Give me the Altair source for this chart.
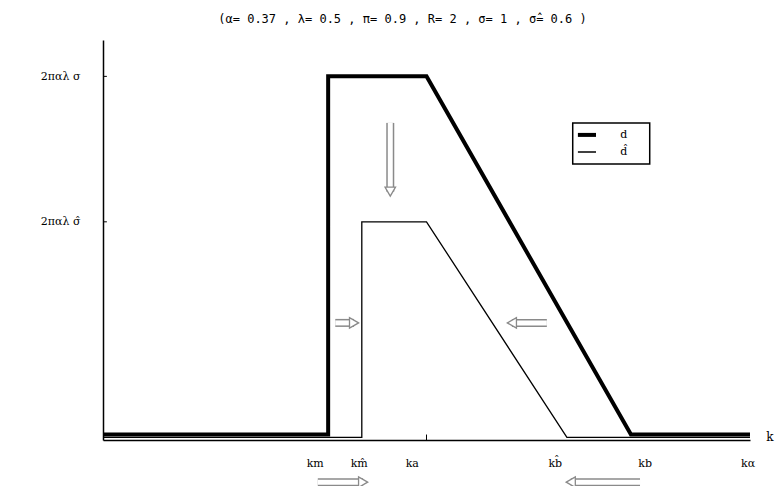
import altair as alt
import pandas as pd

# ---- data -------------------------------------------------------------
title_text = "(α= 0.37 , λ= 0.5 , π= 0.9 , R= 2 , σ= 1 , σ̂= 0.6 )"

# thick path d
d_x = [0.0, 3.48, 3.48, 5.0, 8.16, 10.0]
d_y = [0.015, 0.015, 1.0, 1.0, 0.015, 0.015]
# thin path d-hat
dh_x = [0.0, 4.0, 4.0, 5.0, 7.17, 10.0]
dh_y = [0.007, 0.007, 0.6, 0.6, 0.007, 0.007]

# k-axis labels
k_labels = ["km", "km̂", "ka", "kb̂", "kb", "kα"]
k_label_pos = [3.28, 3.96, 4.78, 6.99, 8.38, 9.97]
ka_tick = [5.0]

# y-axis labels
y_vals = [0.6, 1.0]
y_text = ["2παλ σ̂", "2παλ σ"]

# arrows: tail and head (centre of arrow head)
arr_x1 = [4.44, 3.59, 6.86, 3.32, 8.30]
arr_y1 = [0.872, 0.322, 0.322, -0.116, -0.116]
arr_x2 = [4.44, 3.88, 6.32, 4.02, 7.23]
arr_y2 = [0.683, 0.322, 0.322, -0.116, -0.116]
arr_shape = ["triangle-down", "triangle-right", "triangle-left", "triangle-right", "triangle-left"]

# legend
leg_box_x = [7.26]; leg_box_x2 = [8.45]
leg_box_y = [0.872]; leg_box_y2 = [0.759]
leg_names = ["d", "d̂"]
leg_line_x = [7.34, 7.34]; leg_line_x2 = [7.62, 7.62]
leg_line_y = [0.839, 0.792]
leg_text_x = [8.05, 8.05]
leg_w = [4, 1.5]

# ---- tables -------------------------------------------------------------
lines = pd.DataFrame(
    [{"x": x, "y": y, "s": "d", "o": i} for i, (x, y) in enumerate(zip(d_x, d_y))]
    + [{"x": x, "y": y, "s": "dh", "o": i} for i, (x, y) in enumerate(zip(dh_x, dh_y))]
)
klab = pd.DataFrame({"x": k_label_pos, "t": k_labels, "y": [-0.065] * len(k_labels)})
arrows = pd.DataFrame({"x1": arr_x1, "y1": arr_y1, "x2": arr_x2, "y2": arr_y2, "shape": arr_shape})
legbox = pd.DataFrame({"x": leg_box_x, "x2": leg_box_x2, "y": leg_box_y, "y2": leg_box_y2})
legl = pd.DataFrame({"x": leg_line_x, "x2": leg_line_x2, "y": leg_line_y, "t": leg_names,
                     "tx": leg_text_x, "w": leg_w})
ytk = pd.DataFrame({"y": y_vals, "t": y_text})

xs = alt.Scale(domain=[0, 10], nice=False, zero=False)
ys = alt.Scale(domain=[0, 1.1], nice=False, zero=False)

base = alt.Chart(lines)

thin = base.transform_filter("datum.s == 'dh'").mark_line(color="black", strokeWidth=1.3).encode(
    x=alt.X("x:Q", scale=xs, axis=alt.Axis(labels=False, ticks=False, grid=False, title=None,
                                          domainColor="black", domainWidth=1.5)),
    y=alt.Y("y:Q", scale=ys, axis=alt.Axis(values=y_vals, labelExpr="datum.value == 1 ? '2παλ σ' : '2παλ σ̂'",
                                          ticks=False, grid=False, title=None, domainColor="black",
                                          domainWidth=1.5, labelPadding=23, labelFont="DejaVu Serif",
                                          labelFontSize=11, labelColor="black")),
    order="o:Q",
)
thick = base.transform_filter("datum.s == 'd'").mark_line(color="black", strokeWidth=4,
                                                          strokeJoin="miter").encode(
    x=alt.X("x:Q", scale=xs), y=alt.Y("y:Q", scale=ys), order="o:Q")

ytick = alt.Chart(ytk).mark_rule(color="black", strokeWidth=1).encode(
    x=alt.datum(0, scale=xs), x2=alt.datum(0.06), y=alt.Y("y:Q", scale=ys))
katick = alt.Chart(pd.DataFrame({"x": ka_tick})).mark_rule(color="black", strokeWidth=1).encode(
    x=alt.X("x:Q", scale=xs), y=alt.datum(0, scale=ys), y2=alt.datum(0.015))

ktext = alt.Chart(klab).mark_text(font="DejaVu Serif", fontSize=11, color="black", baseline="middle").encode(
    x=alt.X("x:Q", scale=xs), y=alt.Y("y:Q", scale=ys), text="t:N")
kaxis = alt.Chart(pd.DataFrame({"x": [10.25], "y": [0.008], "t": ["k"]})).mark_text(
    font="DejaVu Serif", fontSize=12, color="black", align="left", baseline="middle").encode(
    x=alt.X("x:Q", scale=xs), y=alt.Y("y:Q", scale=ys), text="t:N")

shaft_o = alt.Chart(arrows).mark_rule(color="#8a8a8a", strokeWidth=8).encode(
    x=alt.X("x1:Q", scale=xs), y=alt.Y("y1:Q", scale=ys), x2="x2:Q", y2="y2:Q")
shaft_i = alt.Chart(arrows).mark_rule(color="white", strokeWidth=5).encode(
    x=alt.X("x1:Q", scale=xs), y=alt.Y("y1:Q", scale=ys), x2="x2:Q", y2="y2:Q")
heads = alt.Chart(arrows).mark_point(filled=True, fill="white", stroke="#8a8a8a", strokeWidth=1.3,
                                     size=110, opacity=1).encode(
    x=alt.X("x2:Q", scale=xs), y=alt.Y("y2:Q", scale=ys),
    shape=alt.Shape("shape:N", scale=None, legend=None))

lbox = alt.Chart(legbox).mark_rect(fill="white", stroke="black", strokeWidth=1.5).encode(
    x=alt.X("x:Q", scale=xs), x2="x2:Q", y=alt.Y("y:Q", scale=ys), y2="y2:Q")
lline = alt.Chart(legl).mark_rule(color="black").encode(
    x=alt.X("x:Q", scale=xs), x2="x2:Q", y=alt.Y("y:Q", scale=ys),
    strokeWidth=alt.StrokeWidth("w:Q", scale=None, legend=None))
ltext = alt.Chart(legl).mark_text(font="DejaVu Serif", fontSize=11, color="black", baseline="middle").encode(
    x=alt.X("tx:Q", scale=xs), y=alt.Y("y:Q", scale=ys), text="t:N")

chart = alt.layer(
    thin, thick, ytick, katick, ktext, kaxis, shaft_o, shaft_i, heads, lbox, lline, ltext
).properties(
    width=647, height=400,
    title=alt.TitleParams(title_text, font="DejaVu Sans Mono", fontSize=12, fontWeight="normal",
                          anchor="middle", frame="group", dx=-24, offset=14, color="black"),
    autosize=alt.AutoSizeParams(type="none"),
    padding={"left": 95, "top": 32, "right": 25, "bottom": 46},
).configure_view(stroke=None)

chart.save("out.html", embed_options={"renderer": "svg", "actions": False})
